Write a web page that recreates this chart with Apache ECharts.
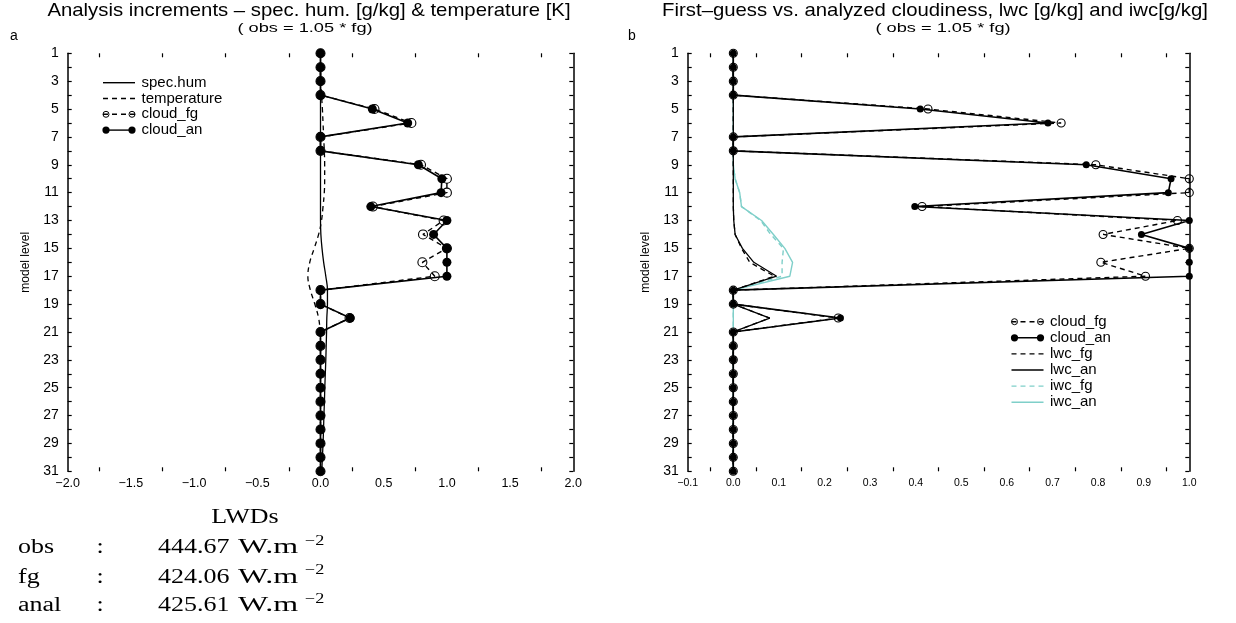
<!DOCTYPE html>
<html>
<head>
<meta charset="utf-8">
<script src="https://cdn.jsdelivr.net/npm/echarts@6/dist/echarts.min.js"></script>
<style>html,body{margin:0;padding:0;background:#fff}#c{width:1236px;height:623px}</style>
</head>
<body>
<div id="c"></div>
<script>
// ---------- data ----------
const levels = ['1','2','3','4','5','6','7','8','9','10','11','12','13','14','15','16','17','18','19','20','21','22','23','24','25','26','27','28','29','30','31'];
const specHum = [0,0,0,0,0,0,0,0,0,0,0,0,0,0.003,0.012,0.025,0.042,0.055,0.055,0.05,0.048,0.045,0.042,0.038,0.034,0.031,0.027,0.024,0.02,0.015,0.01];
const temperature = [0,0,0.002,0.008,0.015,0.02,0.025,0.03,0.033,0.033,0.03,0.02,0.008,-0.015,-0.05,-0.085,-0.1,-0.08,-0.045,-0.015,-0.003,0,0,0,0,0,0,0,0,0,0];
const cloudFg = [0,0,0,0,0.427,0.719,0,0,0.795,1.0,1.0,0.414,0.974,0.811,1.0,0.806,0.904,0,0,0.23,0,0,0,0,0,0,0,0,0,0,0];
const cloudAn = [0,0,0,0,0.41,0.69,0,0,0.774,0.96,0.954,0.398,1.0,0.895,1.0,1.0,1.0,0,0,0.235,0,0,0,0,0,0,0,0,0,0,0];
const lwcFg = [0,0,0,0,0,0,0,0,0,0,0,0,0.001,0.004,0.018,0.036,0.09,0,0,0.08,0,0,0,0,0,0,0,0,0,0,0];
const lwcAn = [0,0,0,0,0,0,0,0,0,0,0,0,0.001,0.004,0.02,0.045,0.095,0,0,0.08,0,0,0,0,0,0,0,0,0,0,0];
const iwcFg = [0,0,0,0,0,0,0,0,0,0.004,0.014,0.018,0.06,0.082,0.11,0.107,0.107,0,0,0,0,0,0,0,0,0,0,0,0,0,0];
const iwcAn = [0,0,0,0,0,0,0,0,0,0.004,0.014,0.018,0.062,0.088,0.113,0.13,0.124,0,0,0,0,0,0,0,0,0,0,0,0,0,0];
const xRangeA = {min: -2, max: 2, interval: 0.5};
const xRangeB = {min: -0.1, max: 1.0, interval: 0.1};
const titleA = 'Analysis increments \u2013 spec. hum. [g/kg] & temperature [K]';
const titleB = 'First\u2013guess vs. analyzed cloudiness, lwc [g/kg] and iwc[g/kg]';
const subTitle = '( obs = 1.05 * fg)';
const legendA = ['spec.hum', 'temperature', 'cloud_fg', 'cloud_an'];
const legendB = ['cloud_fg', 'cloud_an', 'lwc_fg', 'lwc_an', 'iwc_fg', 'iwc_an'];
const lwdNames = ['obs', 'fg', 'anal'];
const lwdValues = ['444.67', '424.06', '425.61'];

// ---------- helpers ----------
const FONT = "'Liberation Sans', Arial, Helvetica, sans-serif";
const SERIF = "'Liberation Serif', 'Times New Roman', serif";
const TEAL = '#7fcfc9';
const DASH = [5, 4];
const pair = arr => arr.map((v, i) => [v, levels[i]]);
const fmt = v => { const r = Math.round(v * 10) / 10; return (r < 0 ? '\u2212' : '') + Math.abs(r).toFixed(1); };

// styles per series name
const styles = {
  'spec.hum':   {color: '#000', dash: null, marker: null},
  'temperature':{color: '#000', dash: DASH, marker: null},
  'cloud_fg':   {color: '#000', dash: DASH, marker: 'open'},
  'cloud_an':   {color: '#000', dash: null, marker: 'filled'},
  'lwc_fg':     {color: '#000', dash: DASH, marker: null},
  'lwc_an':     {color: '#000', dash: null, marker: null},
  'iwc_fg':     {color: TEAL, dash: DASH, marker: null},
  'iwc_an':     {color: TEAL, dash: null, marker: null}
};

const chart = echarts.init(document.getElementById('c'), null, {renderer: 'canvas'});

function xAxes(gi, range, fs) {
  const base = {
    type: 'value', gridIndex: gi, min: range.min, max: range.max, interval: range.interval,
    axisLine: {onZero: false, lineStyle: {color: '#000', width: 1.5}},
    axisTick: {inside: true, length: 5, lineStyle: {color: '#000', width: 1.2}},
    minorTick: {show: true, splitNumber: 2, length: 4, lineStyle: {color: '#000', width: 1.2}},
    splitLine: {show: false}, minorSplitLine: {show: false}
  };
  return [
    Object.assign({}, base, {position: 'bottom',
      axisLabel: {formatter: fmt, color: '#000', fontSize: fs, fontFamily: FONT, margin: 6}}),
    Object.assign({}, base, {position: 'top', axisLabel: {show: false}})
  ];
}
function yAxes(gi) {
  const base = {
    type: 'category', gridIndex: gi, data: levels, inverse: true, boundaryGap: false,
    axisLine: {onZero: false, lineStyle: {color: '#000', width: 1.5}},
    axisTick: {inside: true, interval: 0, length: 4, lineStyle: {color: '#000', width: 1.2}},
    splitLine: {show: false}
  };
  return [
    Object.assign({}, base, {position: 'left',
      axisLabel: {interval: 1, color: '#000', fontSize: 14, fontFamily: FONT, margin: 9},
      name: 'model level', nameLocation: 'middle', nameGap: 36,
      nameTextStyle: {color: '#000', fontSize: 12, fontFamily: FONT}}),
    Object.assign({}, base, {position: 'right', axisLabel: {show: false}})
  ];
}

function line(name, data, axisIdx, opts) {
  const s = styles[name];
  const o = {
    name, type: 'line', xAxisIndex: axisIdx, yAxisIndex: axisIdx, data: pair(data),
    animation: false, showAllSymbol: true,
    symbol: 'none', showSymbol: false,
    lineStyle: {color: s.color, width: 1.4, type: s.dash || 'solid'},
    itemStyle: {color: s.color}
  };
  if (s.marker === 'open') {
    Object.assign(o, {symbol: 'circle', showSymbol: true, z: 3,
      itemStyle: {color: 'rgba(255,255,255,0)', borderColor: '#000', borderWidth: 1.1}});
  } else if (s.marker === 'filled') {
    Object.assign(o, {symbol: 'circle', showSymbol: true, z: 4,
      itemStyle: {color: '#000', borderColor: '#000', borderWidth: 0}});
  }
  return Object.assign(o, opts || {});
}

const graphicEls = [];
function txt(x, y, text, font, align, sx) {
  graphicEls.push({type: 'text', x, y, scaleX: sx || 1, silent: true,
    style: {text, font, fill: '#000', align: align || 'left', verticalAlign: 'middle'}});
}
txt(309, 11, titleA, '19px ' + FONT, 'center', 1.07);
txt(305, 28, subTitle, '13.5px ' + FONT, 'center', 1.35);
txt(10, 36, 'a', '14px ' + FONT, 'left');
txt(935, 11, titleB, '19px ' + FONT, 'center', 1.07);
txt(943, 28, subTitle, '13.5px ' + FONT, 'center', 1.35);
txt(628, 36, 'b', '14px ' + FONT, 'left');

// legends (drawn manually to match the original key style)
function legend(names, x0, y0, dy) {
  names.forEach((n, i) => {
    const s = styles[n], y = y0 + i * dy, x1 = x0, x2 = x0 + 32;
    graphicEls.push({type: 'line', silent: true, shape: {x1, y1: y, x2, y2: y},
      style: {stroke: s.color, lineWidth: 1.4, lineDash: s.dash || null}});
    if (s.marker) {
      [x1 + 3, x2 - 3].forEach(cx => graphicEls.push({type: 'circle', silent: true,
        shape: {cx, cy: y, r: s.marker === 'open' ? 3 : 3.6},
        style: s.marker === 'open' ? {fill: 'rgba(255,255,255,0)', stroke: '#000', lineWidth: 1}
                                   : {fill: '#000', stroke: null}}));
    }
    txt(x0 + 38.5, y, n, '15px ' + FONT, 'left');
  });
}
legend(legendA, 103, 82.7, 15.8);
legend(legendB, 1011.5, 321.7, 16.1);

// LWDs block
txt(245, 518, 'LWDs', '20px ' + SERIF, 'center', 1.3);
const rowY = [548, 577.5, 606];
lwdNames.forEach((n, i) => {
  txt(18, rowY[i], n, '20px ' + SERIF, 'left', 1.3);
  txt(100, rowY[i], ':', '20px ' + SERIF, 'center', 1.3);
  txt(158, rowY[i], lwdValues[i], '20px ' + SERIF, 'left', 1.3);
  txt(238, rowY[i], 'W.m', '20px ' + SERIF, 'left', 1.6);
  txt(305, rowY[i] - 7, '\u22122', '14px ' + SERIF, 'left', 1.3);
});

const xa = xAxes(0, xRangeA, 12.5), xb = xAxes(1, xRangeB, 10.5);
const ya = yAxes(0), yb = yAxes(1);

const option = {
  backgroundColor: '#fff',
  animation: false,
  textStyle: {fontFamily: FONT},
  grid: [
    {left: 67.7, top: 53.3, width: 505.6, height: 418, containLabel: false},
    {left: 687.7, top: 53.3, width: 501.6, height: 418, containLabel: false}
  ],
  xAxis: [xa[0], xa[1], xb[0], xb[1]],
  yAxis: [ya[0], ya[1], yb[0], yb[1]],
  graphic: graphicEls,
  series: [
    // panel a
    line('spec.hum', specHum, 0, {smooth: 0.4, lineStyle: {color: '#000', width: 1.3}}),
    line('temperature', temperature, 0, {smooth: 0.4, lineStyle: {color: '#000', width: 1.3, type: DASH}}),
    line('cloud_fg', cloudFg, 0, {symbolSize: 9}),
    line('cloud_an', cloudAn, 0, {symbolSize: 9, lineStyle: {color: '#000', width: 1.6}}),
    // panel b
    line('iwc_fg', iwcFg, 2),
    line('iwc_an', iwcAn, 2),
    line('lwc_fg', lwcFg, 2, {lineStyle: {color: '#000', width: 1.3, type: DASH}}),
    line('lwc_an', lwcAn, 2, {lineStyle: {color: '#000', width: 1.3}}),
    line('cloud_fg', cloudFg, 2, {symbolSize: 8}),
    line('cloud_an', cloudAn, 2, {symbolSize: 7, lineStyle: {color: '#000', width: 1.6}})
  ]
};
chart.setOption(option);
</script>
</body>
</html>
